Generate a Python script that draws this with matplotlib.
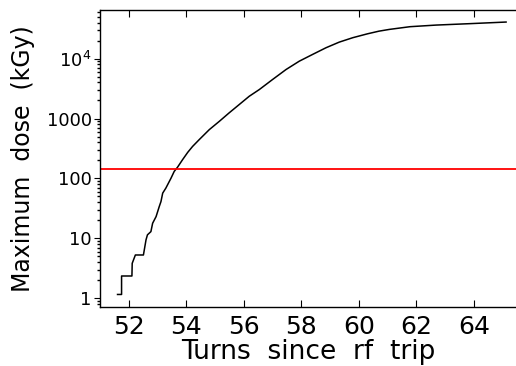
import numpy as np
import matplotlib.pyplot as plt
from matplotlib.ticker import FixedLocator, FixedFormatter, NullFormatter

# dose curve
turns = [51.61, 51.75, 51.75, 52.11, 52.12, 52.23, 52.51, 52.60, 52.65, 52.77,
         52.83, 52.95, 53.06, 53.12, 53.18, 53.29, 53.47, 53.58, 53.70, 53.87,
         54.05, 54.22, 54.45, 54.80, 55.15, 55.49, 55.84, 56.19, 56.54, 57.00,
         57.47, 57.93, 58.39, 58.86, 59.32, 59.79, 60.30, 60.70, 61.06, 61.78,
         62.69, 63.84, 65.12]
dose = [1.15, 1.15, 2.34, 2.34, 3.81, 5.25, 5.25, 9.4, 11.4, 12.9,
        17.8, 23, 33.8, 41, 56.7, 68.8, 101, 130.6, 154.6, 205,
        272, 342, 444, 652, 898, 1242, 1710, 2355, 3048, 4483,
        6590, 9080, 11750, 15230, 18900, 22400, 26000, 28800, 30800, 34200,
        36400, 38400, 40900]
limit = 145

yticks = [1, 10, 100, 1000, 1e4]
ytick_labels = ['1', '10', '100', '1000', r'10$^4$']
xticks = [52, 54, 56, 58, 60, 62, 64]

fig = plt.figure(figsize=(5.16, 3.66), dpi=100)
ax = fig.add_axes([100/516, 59/366, 417/516, 297/366])

ax.plot(turns, dose, color='black', lw=1.1)
ax.axhline(limit, color='red', lw=1.3)

ax.set_yscale('log')
ax.set_xlim(51, 65.5)
ax.set_ylim(0.71, 65000)

ax.yaxis.set_major_locator(FixedLocator(yticks))
ax.yaxis.set_major_formatter(FixedFormatter(ytick_labels))
minors = [m * 10**d for d in range(-1, 5) for m in range(2, 10)]
ax.yaxis.set_minor_locator(FixedLocator(minors))
ax.yaxis.set_minor_formatter(NullFormatter())
ax.set_xticks(xticks)

ax.tick_params(axis='x', direction='in', top=True, length=5, width=0.8,
               labelsize=18, pad=6)
ax.tick_params(axis='y', which='major', direction='out', length=4, width=0.8,
               labelsize=13, pad=2)
ax.tick_params(axis='y', which='minor', direction='out', length=2.5, width=1.0)

ax.spines['right'].set_visible(False)
for s in ['left', 'bottom', 'top']:
    ax.spines[s].set_linewidth(1.0)

ax.set_xlabel('Turns  since  rf  trip', fontsize=19, labelpad=0)
ax.set_ylabel('Maximum  dose  (kGy)', fontsize=17, labelpad=8)

fig.savefig('out.png', dpi=100)
